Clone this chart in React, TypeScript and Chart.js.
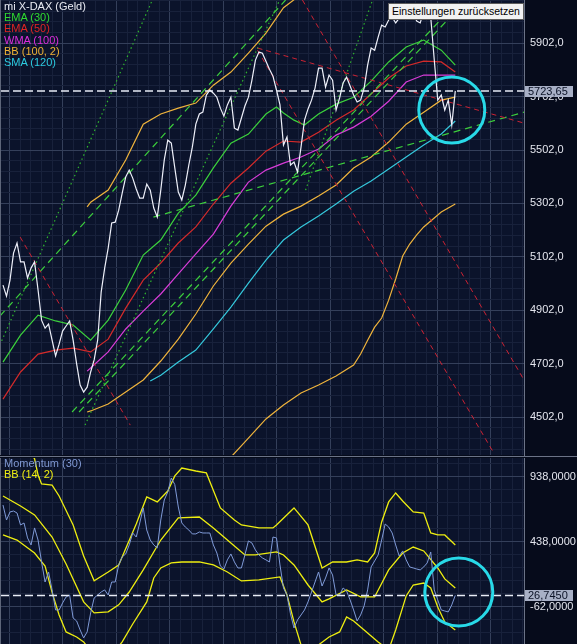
import React, { useEffect, useRef } from "react";
import { Chart, registerables } from "chart.js";

Chart.register(...registerables);

// ---------- scales ----------
const X_MIN = -0.57;
const X_MAX = 148.6;
const X_GRID_ANCHOR = 1.86;
const X_GRID_STEP = 15.25;

const Y_MIN = 4360;
const Y_MAX = 6064;
const TOP_TICKS = [4502, 4702, 4902, 5102, 5302, 5502, 5702, 5902];
const TOP_MINOR = 40;

const M_MIN = -347;
const M_MAX = 1084;
const MOM_TICKS = [-62, 438, 938];
const MOM_MINOR = 100;

const LAST_PRICE = 5723.65;
const LAST_PRICE_LABEL = "5723,65";
const LAST_MOM = 26.745;
const LAST_MOM_LABEL = "26,7450";

// ---------- price (one value per bar) ----------
const PRICE = [
  4996, 4955, 5015, 5116, 5154, 5083, 5083, 5023, 5060, 5083,
  4978, 4865, 4835, 4850, 4790, 4731, 4775, 4824, 4843, 4862,
  4790, 4701, 4622, 4596, 4614, 4671, 4716, 4790, 4970, 5060,
  5135, 5229, 5232, 5277, 5341, 5401, 5427, 5397, 5356, 5322,
  5322, 5375, 5352, 5285, 5251, 5352, 5465, 5539, 5528, 5435,
  5345, 5315, 5371, 5446, 5513, 5599, 5637, 5644, 5708, 5727,
  5715, 5700, 5659, 5629, 5671, 5700, 5584, 5577, 5622, 5667,
  5700, 5764, 5839, 5869, 5865, 5835, 5805, 5779, 5727, 5671,
  5521, 5551, 5446, 5457, 5420, 5513, 5614, 5656, 5689, 5734,
  5809, 5809, 5738, 5783, 5764, 5652, 5697, 5753, 5775, 5742,
  5708, 5682, 5689, 5734, 5820, 5884, 5876, 5925, 5970, 5963,
  5989, 6000, 5978, 5996, 6026, 6023, 6011, 6015, 5985, 5978,
  6023, 6038, 6000, 5840, 5689, 5708, 5652, 5689, 5596, 5723.65,
];

// ---------- indicators [bar, value] ----------
const EMA30 = [
  [0, 4708], [5, 4809], [10, 4884], [15, 4862], [20, 4847], [25, 4790], [30, 4865],
  [35, 4978], [40, 5109], [45, 5165], [50, 5266], [55, 5333], [60, 5435], [65, 5528],
  [70, 5562], [75, 5637], [78, 5663], [80, 5641], [83, 5614], [86, 5596], [90, 5637],
  [95, 5674], [100, 5700], [105, 5760], [110, 5832], [115, 5888], [120, 5914],
  [125, 5876], [129, 5820],
];
const EMA50 = [
  [0, 4569], [5, 4671], [10, 4738], [15, 4753], [20, 4760], [25, 4746], [30, 4794],
  [35, 4910], [40, 5015], [45, 5079], [50, 5154], [55, 5214], [60, 5300], [65, 5378],
  [70, 5435], [75, 5498], [80, 5536], [85, 5532], [90, 5569], [95, 5614], [100, 5652],
  [105, 5712], [110, 5772], [115, 5817], [120, 5835], [125, 5832], [129, 5794],
];
const WMA100 = [
  [24, 4674], [25, 4686], [30, 4746], [35, 4832], [40, 4899], [45, 4963], [50, 5038],
  [55, 5113], [60, 5187], [65, 5292], [70, 5382], [75, 5427], [80, 5453], [85, 5476],
  [90, 5506], [95, 5558], [100, 5588], [105, 5629], [110, 5685], [115, 5757],
  [120, 5783], [125, 5783], [129, 5783],
];
const BB_MID = [
  [24, 4521], [25, 4525], [30, 4551], [35, 4596], [40, 4641], [45, 4712], [50, 4794],
  [55, 4888], [60, 4993], [65, 5079], [70, 5150], [75, 5217], [80, 5262], [85, 5292],
  [90, 5330], [95, 5371], [100, 5435], [105, 5476], [110, 5532], [115, 5599],
  [120, 5644], [125, 5689], [129, 5700],
];
const BB_UP = [
  [24, 5289], [25, 5307], [30, 5352], [35, 5465], [40, 5599], [45, 5637], [50, 5659],
  [55, 5678], [60, 5745], [65, 5794], [70, 5865], [75, 5940], [80, 6035], [85, 6085],
  [90, 6110], [95, 6125], [100, 6170], [105, 6130], [110, 6120], [115, 6085],
  [120, 6080], [125, 6110], [129, 6100],
];
const BB_LOW = [
  [24, 3753], [30, 3750], [35, 3727], [40, 3683], [45, 3760], [50, 3929], [55, 4098],
  [60, 4241], [65, 4352], [70, 4423], [75, 4495], [80, 4547], [85, 4592], [90, 4622],
  [95, 4656], [100, 4697], [102, 4738], [104, 4790], [106, 4839], [108, 4873],
  [110, 4940], [112, 5019], [114, 5105], [116, 5150], [118, 5184], [120, 5214],
  [125, 5270], [129, 5300],
];
const SMA120 = [
  [42, 4637], [45, 4659], [50, 4708], [55, 4753], [60, 4832], [65, 4914], [70, 5004],
  [75, 5090], [80, 5165], [85, 5214], [90, 5255], [95, 5300], [100, 5348], [105, 5386],
  [110, 5431], [115, 5476], [120, 5521], [125, 5562], [129, 5611],
];

// ---------- drawn trend lines [bar, value] ----------
const RED_TRENDS = [
  [[4.9, 5176], [36.3, 4472]],
  [[72.6, 5876], [140, 4367]],
  [[85.4, 6064], [148.6, 4641]],
  [[72.6, 5884], [148.6, 5603]],
];
const GREEN_DASHED = [
  [[-0.9, 4880], [80.6, 6064]],
  [[19.7, 4521], [127.4, 6026]],
  [[21.7, 4521], [129.4, 6026]],
  [[42.9, 5251], [148.6, 5644]],
];
const GREEN_DOTTED = [
  [[-0.9, 4772], [42.6, 6064]],
  [[23.4, 4472], [78.9, 6064]],
  [[86.3, 5352], [105.4, 6064]],
];
const TOP_CIRCLE = { x: 128, y: 5652 };
const MOM_CIRCLE = { x: 130, y: 53 };

// ---------- momentum panel ----------
const MOMENTUM = [
  722, 607, 669, 676, 661, 569, 584, 469, 415, 546,
  453, 284, 130, 207, 69, -85, -85, -31, 15, 30,
  -147, -170, -239, -300, -254, -108, 7, 30, 53, 69,
  30, 130, 130, 261, 323, 346, 415, 507, 476, 584,
  700, 530, 453, 415, 392, 607, 761, 823, 930, 880,
  707, 584, 553, 530, 500, 500, 515, 507, 507, 507,
  415, 353, 253, 230, 300, 346, 284, 238, 238, 338,
  446, 430, 376, 338, 315, 300, 284, 476, 469, 261,
  84, 30, -116, -224, -162, -124, -85, -23, 53, 130,
  207, 99, 161, 238, 184, 30, 30, 84, 61, -8,
  -85, -170, -124, -54, 69, 246, 292, 338, 453, 576,
  553, 507, 415, 330, 369, 300, 246, 238, 230, 223,
  246, 277, 361, 69, -8, -85, -93, -100, -46, 26.745,
];
const MOM_BB_UP = [
  [0, 1250], [5, 1180], [9, 1080], [10, 953], [11, 884], [14, 876], [16, 792], [20, 569],
  [23, 330], [26, 140], [30, 207], [33, 261], [38, 576], [41, 784], [44, 746], [47, 830],
  [49, 946], [51, 1007], [55, 984], [58, 969], [62, 700], [66, 607], [68, 569], [73, 546],
  [77, 546], [78, 569], [83, 700], [87, 569], [91, 238], [94, 284], [98, 284], [101, 300],
  [104, 284], [106, 353], [108, 592], [110, 746], [112, 815], [114, 753], [117, 669],
  [120, 661], [122, 507], [124, 492], [126, 492], [129, 415],
];
const MOM_BB_MID = [
  [0, 792], [5, 715], [9, 646], [14, 476], [18, 269], [23, -23], [26, -108], [30, -100],
  [33, -46], [36, 53], [40, 223], [45, 453], [50, 623], [56, 630], [60, 546], [66, 407],
  [69, 338], [72, 338], [78, 361], [80, 338], [83, 261], [87, 107], [91, -23], [93, 0],
  [98, 69], [102, 15], [106, 15], [110, 223], [114, 353], [117, 399], [120, 369],
  [124, 238], [126, 154], [129, 84],
];
const MOM_BB_LOW = [
  [0, 492], [4, 453], [9, 353], [12, 253], [14, 50], [16, -124], [18, -254], [21, -293],
  [23, -331], [27, -470], [31, -431], [34, -331], [37, -193], [41, -23], [43, 161],
  [45, 238], [48, 277], [51, 284], [56, 284], [60, 261], [64, 207], [68, 138], [73, 146],
  [79, 169], [81, 30], [83, -177], [85, -354], [88, -431], [90, -354], [93, -293],
  [96, -254], [98, -139], [100, -170], [103, -239], [107, -331], [110, -393], [112, -239],
  [115, 23], [117, 107], [120, 122], [122, 84], [124, -62], [126, -177], [129, -239],
];

// ---------- legend text ----------
const TOP_LEGEND = [
  ["mi X-DAX (Geld)", "#e8eaf2"],
  ["EMA (30)", "#2fdc2f"],
  ["EMA (50)", "#e02424"],
  ["WMA (100)", "#dc2cdc"],
  ["BB (100, 2)", "#f0b234"],
  ["SMA (120)", "#2ccbe0"],
];
const MOM_LEGEND = [
  ["Momentum (30)", "#7f98d2"],
  ["BB (14, 2)", "#eeee12"],
];
const RESET_LABEL = "Einstellungen zurücksetzen";

// ---------- styles ----------
const FONT = '"Liberation Sans", Arial, sans-serif';
const AXIS_BG = "#060b1b";
const PLOT_BG = "#0b132b";
const GRID_MAJOR = "#343f5a";
const GRID_MINOR = "#18213b";
const C_PRICE = "#eef0fa";
const C_EMA30 = "#3cd23c";
const C_EMA50 = "#d42a2a";
const C_WMA = "#d83cd8";
const C_BB = "#f0b43c";
const C_SMA = "#35c8dc";
const C_TRED = "#cc2233";
const C_TGREEN = "#3ccf3c";
const C_TDOT = "#2fb52f";
const C_CIRCLE = "#28d9e8";
const C_MOM = "#7f9ad8";
const C_MBB = "#eeee10";

const pts = (arr: number[][]) => arr.map(([x, y]) => ({ x, y }));
const seq = (arr: number[]) => arr.map((y, i) => ({ x: i, y }));

function lineDs(data: any[], color: string, width = 1, dash: number[] = []) {
  return {
    type: "line",
    data,
    borderColor: color,
    borderWidth: width,
    borderDash: dash,
    pointRadius: 0,
    pointHoverRadius: 0,
    fill: false,
    tension: 0,
    spanGaps: true,
  };
}

function hline(v: number) {
  return lineDs([{ x: X_MIN, y: v }, { x: X_MAX, y: v }], "#e8ecf6", 1.5, [8, 4]);
}

function isMajor(v: number, majors: number[]) {
  return majors.some((m) => Math.abs(m - v) < 1e-6);
}

function gridValues(min: number, max: number, anchor: number, step: number) {
  const out: number[] = [];
  let v = anchor - Math.ceil((anchor - min) / step) * step;
  for (; v <= max + 1e-9; v += step) if (v >= min - 1e-9) out.push(+v.toFixed(6));
  return out;
}

function xScale() {
  const majors = gridValues(X_MIN, X_MAX, X_GRID_ANCHOR, X_GRID_STEP);
  return {
    type: "linear",
    min: X_MIN,
    max: X_MAX,
    afterBuildTicks: (s: any) => {
      s.ticks = gridValues(X_MIN, X_MAX, X_GRID_ANCHOR, X_GRID_STEP / 5).map((v) => ({
        value: v,
        major: isMajor(v, majors),
      }));
    },
    afterFit: (s: any) => {
      s.height = 0;
      s.paddingLeft = 0;
      s.paddingRight = 0;
    },
    ticks: { display: false },
    grid: { color: (c: any) => (c.tick && c.tick.major ? GRID_MAJOR : GRID_MINOR), drawTicks: false },
    border: { display: false },
  };
}

function yScale(min: number, max: number, majors: number[], minor: number, decimals: number) {
  return {
    type: "linear",
    position: "right",
    min,
    max,
    afterBuildTicks: (s: any) => {
      s.ticks = gridValues(min, max, majors[0], minor).map((v) => ({ value: v, major: isMajor(v, majors) }));
    },
    afterFit: (s: any) => {
      s.width = 53;
      s.paddingTop = 0;
      s.paddingBottom = 0;
    },
    ticks: {
      autoSkip: false,
      color: "#e4e6ee",
      padding: 6,
      font: { family: FONT, size: 11 },
      callback: (v: number) => (isMajor(v, majors) ? v.toFixed(decimals).replace(".", ",") : ""),
    },
    grid: { color: (c: any) => (c.tick && c.tick.major ? GRID_MAJOR : GRID_MINOR), drawTicks: false },
    border: { display: true, color: "#6b7387" },
  };
}

function panelPlugin(value: number, text: string, circle: { x: number; y: number }, radius: number) {
  return {
    id: "panel",
    beforeDraw(chart: any) {
      const { ctx, chartArea: a, width, height } = chart;
      ctx.save();
      ctx.fillStyle = AXIS_BG;
      ctx.fillRect(0, 0, width, height);
      ctx.fillStyle = PLOT_BG;
      ctx.fillRect(a.left, a.top, a.right - a.left, a.bottom - a.top);
      ctx.restore();
    },
    afterDatasetsDraw(chart: any) {
      const { ctx, scales } = chart;
      ctx.save();
      ctx.strokeStyle = C_CIRCLE;
      ctx.lineWidth = 3;
      ctx.beginPath();
      ctx.arc(scales.x.getPixelForValue(circle.x), scales.y.getPixelForValue(circle.y), radius, 0, Math.PI * 2);
      ctx.stroke();
      ctx.restore();
    },
    afterDraw(chart: any) {
      const { ctx, chartArea: a } = chart;
      ctx.save();
      ctx.strokeStyle = "#5d6579";
      ctx.lineWidth = 1;
      ctx.beginPath();
      ctx.moveTo(a.left - 0.5, a.top);
      ctx.lineTo(a.left - 0.5, a.bottom);
      ctx.stroke();
      const y = Math.round(chart.scales.y.getPixelForValue(value));
      ctx.fillStyle = "#a8b0c6";
      ctx.fillRect(a.right + 1, y - 5, 48, 11);
      ctx.fillStyle = "#0b1226";
      ctx.font = `11px ${FONT}`;
      ctx.textBaseline = "middle";
      ctx.textAlign = "left";
      ctx.fillText(text, a.right + 4, y + 1);
      ctx.restore();
    },
  };
}

function makeOptions(y: any, padding: any) {
  return {
    responsive: false,
    animation: false,
    devicePixelRatio: 1,
    events: [],
    layout: { padding },
    plugins: { legend: { display: false }, tooltip: { enabled: false } },
    scales: { x: xScale(), y },
  };
}

export default function App() {
  const topRef = useRef<HTMLCanvasElement>(null);
  const botRef = useRef<HTMLCanvasElement>(null);

  useEffect(() => {
    const topDatasets: any[] = [
      hline(LAST_PRICE),
      lineDs(seq(PRICE), C_PRICE, 1.2),
      ...RED_TRENDS.map((t) => lineDs(pts(t), C_TRED, 1, [5, 4])),
      ...GREEN_DASHED.map((t) => lineDs(pts(t), C_TGREEN, 1.2, [7, 5])),
      ...GREEN_DOTTED.map((t) => lineDs(pts(t), C_TDOT, 1.2, [1.5, 3])),
      lineDs(pts(EMA30), C_EMA30, 1.2),
      lineDs(pts(EMA50), C_EMA50, 1.2),
      lineDs(pts(WMA100), C_WMA, 1.2),
      lineDs(pts(BB_UP), C_BB, 1.2),
      lineDs(pts(BB_MID), C_BB, 1.2),
      lineDs(pts(BB_LOW), C_BB, 1.2),
      lineDs(pts(SMA120), C_SMA, 1.2),
    ];
    const top = new Chart(topRef.current as HTMLCanvasElement, {
      type: "line",
      data: { datasets: topDatasets },
      options: makeOptions(yScale(Y_MIN, Y_MAX, TOP_TICKS, TOP_MINOR, 1), { left: 1, right: 0, top: 0, bottom: 1 }) as any,
      plugins: [panelPlugin(LAST_PRICE, LAST_PRICE_LABEL, TOP_CIRCLE, 33)],
    });

    const botDatasets: any[] = [
      hline(LAST_MOM),
      lineDs(seq(MOMENTUM), C_MOM, 1),
      lineDs(pts(MOM_BB_UP), C_MBB, 1.3),
      lineDs(pts(MOM_BB_MID), C_MBB, 1.3),
      lineDs(pts(MOM_BB_LOW), C_MBB, 1.3),
    ];
    const bot = new Chart(botRef.current as HTMLCanvasElement, {
      type: "line",
      data: { datasets: botDatasets },
      options: makeOptions(yScale(M_MIN, M_MAX, MOM_TICKS, MOM_MINOR, 4), { left: 1, right: 0, top: 1, bottom: 0 }) as any,
      plugins: [panelPlugin(LAST_MOM, LAST_MOM_LABEL, MOM_CIRCLE, 34)],
    });

    return () => {
      top.destroy();
      bot.destroy();
    };
  }, []);

  const legendStyle: React.CSSProperties = {
    position: "absolute",
    left: 4,
    fontFamily: FONT,
    fontSize: 11,
    lineHeight: "11.2px",
    whiteSpace: "nowrap",
    pointerEvents: "none",
  };

  return (
    <div
      style={{
        position: "fixed",
        left: 0,
        top: 0,
        width: 577,
        height: 644,
        background: AXIS_BG,
        overflow: "hidden",
      }}
    >
      <canvas ref={topRef} width={577} height={456} style={{ position: "absolute", left: 0, top: 0, display: "block" }} />
      <div style={{ position: "absolute", left: 0, top: 456, width: 577, height: 1, background: "#6b7387" }} />
      <canvas ref={botRef} width={577} height={187} style={{ position: "absolute", left: 0, top: 457, display: "block" }} />
      <div style={{ ...legendStyle, top: 1 }}>
        {TOP_LEGEND.map(([t, c]) => (
          <div key={t} style={{ color: c }}>{t}</div>
        ))}
      </div>
      <div style={{ ...legendStyle, top: 458 }}>
        {MOM_LEGEND.map(([t, c]) => (
          <div key={t} style={{ color: c }}>{t}</div>
        ))}
      </div>
      <div
        style={{
          position: "absolute",
          left: 388,
          top: 3,
          width: 131,
          height: 15,
          background: "#f2f2f2",
          border: "1px solid #5c5c5c",
          fontFamily: FONT,
          fontSize: 10.5,
          lineHeight: "15px",
          color: "#000",
          paddingLeft: 3,
          boxSizing: "content-box",
          whiteSpace: "nowrap",
          overflow: "hidden",
        }}
      >
        {RESET_LABEL}
      </div>
    </div>
  );
}
